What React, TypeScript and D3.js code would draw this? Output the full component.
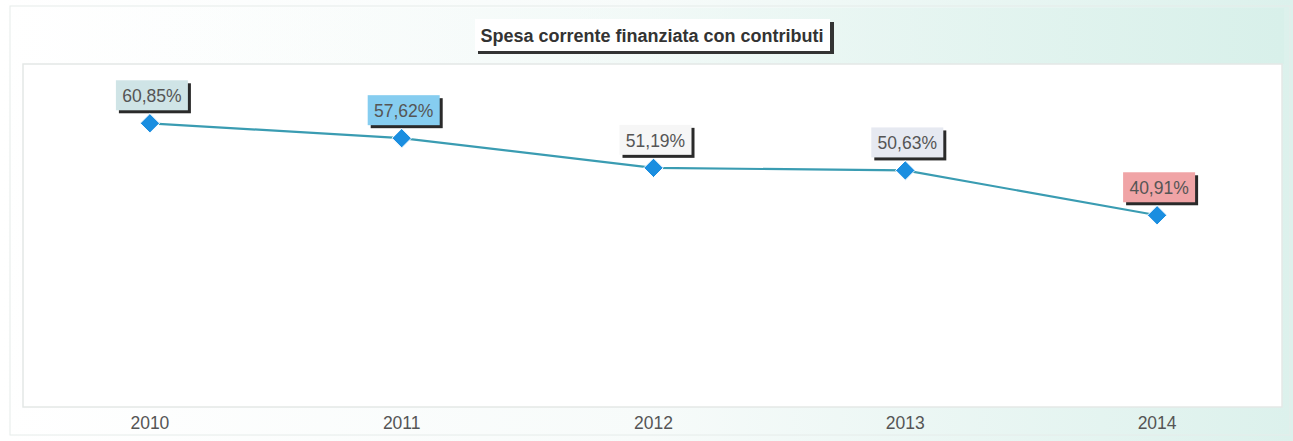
import React from "react";
import * as d3 from "d3";

const categories = ["2010", "2011", "2012", "2013", "2014"];
const values = [60.85, 57.62, 51.19, 50.63, 40.91];
const valueLabels = ["60,85%", "57,62%", "51,19%", "50,63%", "40,91%"];
const labelFills = ["#cfe4e6", "#86cdf0", "#f6f6f6", "#e6e9f1", "#f0a4a6"];
const title = "Spesa corrente finanziata con contributi";

const W = 1293;
const H = 441;

export default function App() {
  const plot = { left: 23, right: 1282, top: 64, bottom: 407 };
  const x = d3.scaleBand<string>().domain(categories).range([24, 1283]);
  const y = d3.scaleLinear().domain([0, 73.7]).range([404, 64]);
  const cx = (c: string) => (x(c) ?? 0) + x.bandwidth() / 2;
  const line = d3
    .line<number>()
    .x((_, i) => cx(categories[i]))
    .y((d) => y(d));
  const diamond = d3.symbol().type(d3.symbolDiamond2).size(240)();

  return (
    <svg
      width={W}
      height={H}
      style={{ position: "absolute", left: 0, top: 0, fontFamily: "Liberation Sans, Arial, sans-serif" }}
    >
      <defs>
        <linearGradient id="bg" x1="0" x2="1" y1="0" y2="0">
          <stop offset="0" stopColor="#ffffff" />
          <stop offset="0.5" stopColor="#f7fbfa" />
          <stop offset="1" stopColor="#dcf1ec" />
        </linearGradient>
        <linearGradient id="topband" x1="0" x2="1" y1="0" y2="0">
          <stop offset="0" stopColor="#ffffff" stopOpacity={0} />
          <stop offset="0.6" stopColor="#e8f6f2" stopOpacity={0.6} />
          <stop offset="1" stopColor="#d8f0ea" stopOpacity={1} />
        </linearGradient>
      </defs>
      <rect x={0} y={0} width={W} height={H} fill="url(#bg)" />
      <rect x={12} y={8} width={1272} height={56} fill="url(#topband)" />
      <rect x={10} y={6} width={1280} height={H - 12} fill="none" stroke="#e6ecea" strokeWidth={1} />
      <rect
        x={plot.left}
        y={plot.top}
        width={plot.right - plot.left}
        height={plot.bottom - plot.top}
        fill="#ffffff"
        stroke="#e4e8e6"
        strokeWidth={1.5}
      />
      {/* title */}
      <rect x={478} y={22} width={356} height={32} fill="#333" />
      <rect x={475} y={19} width={355} height={32} fill="#ffffff" />
      <text
        x={652}
        y={42}
        textAnchor="middle"
        fontSize={18}
        fontWeight="bold"
        fill="#333"
      >
        {title}
      </text>

      <path d={line(values) ?? ""} fill="none" stroke="#3a9cb2" strokeWidth={2.2} />
      {values.map((v, i) => {
        const px = cx(categories[i]);
        const py = y(v);
        const bw = 72;
        const bh = 30;
        const bx = px - bw / 2 + 2;
        const by = py - 13 - bh;
        return (
          <g key={categories[i]}>
            <rect x={bx + 3} y={by + 3} width={bw} height={bh} fill="#2a2a2a" />
            <rect x={bx} y={by} width={bw} height={bh} fill={labelFills[i]} />
            <text x={bx + bw / 2} y={by + 22} textAnchor="middle" fontSize={17.5} fill="#555">
              {valueLabels[i]}
            </text>
            <path d={diamond ?? ""} transform={`translate(${px},${py})`} fill="#1a8ee0" stroke="#ffffff" strokeWidth={1} />
          </g>
        );
      })}
      {categories.map((c) => (
        <text key={c} x={cx(c)} y={429} textAnchor="middle" fontSize={17.5} fill="#555">
          {c}
        </text>
      ))}
    </svg>
  );
}
